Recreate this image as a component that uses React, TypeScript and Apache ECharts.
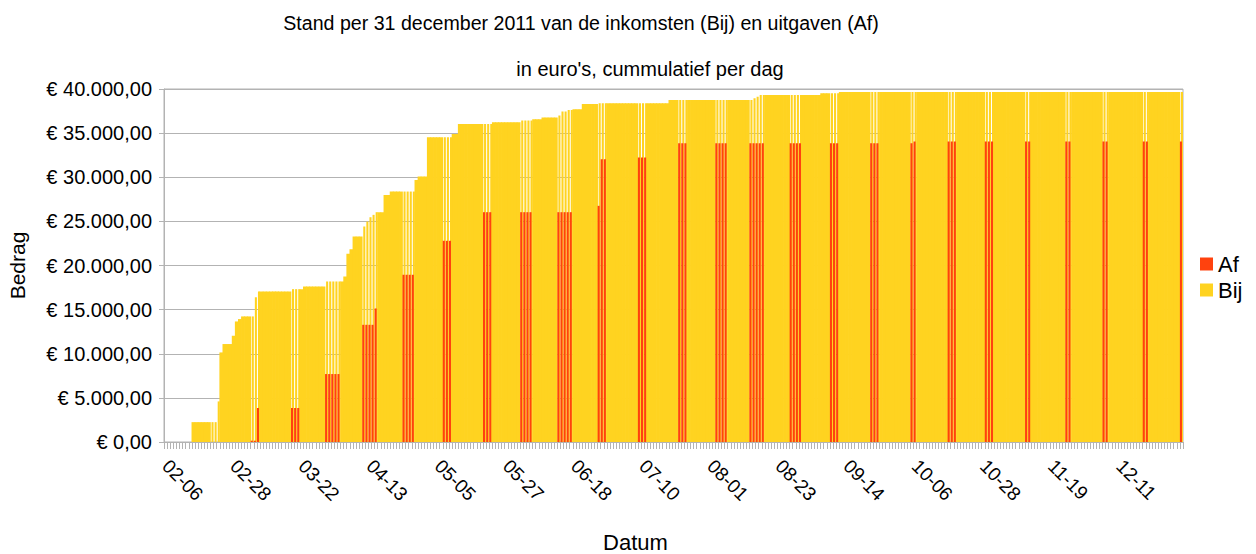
import React, { useEffect, useRef } from "react";
import * as echarts from "echarts";

// ---- Data ----
const TITLE = "Stand per 31 december 2011 van de inkomsten (Bij) en uitgaven (Af)";
const SUBTITLE = "in euro's, cummulatief per dag";
const SERIES_NAMES = ["Af", "Bij"];

// Daily categories: 2011-02-06 .. 2011-12-31
const FIRST_DAY = { year: 2011, month: 1, day: 6 };
const DAY_COUNT = 329;

// Runs of consecutive days with equal values (count of days per run)
const runLengths = [
  9, 6, 2, 1, 1, 3, 1, 1, 1, 3, 1, 1, 1, 10, 3, 1, 7, 5, 1, 1, 1, 1, 3, 1, 1, 1, 1, 1, 2, 2,
  4, 4, 1, 3, 5, 3, 2, 8, 3, 9, 4, 3, 5, 1, 2, 2, 3, 5, 1, 2, 10, 3, 7, 3, 3, 9, 4, 7, 1, 1,
  1, 2, 8, 4, 6, 3, 3, 10, 3, 10, 1, 1, 10, 3, 9, 3, 10, 2, 11, 2, 10, 2, 11, 2, 10, 1,
];
// Cumulative income (Bij) for each run
const bijRunValues = [
  null, 2250, 2250, 4600, 10150, 11100, 12040, 13660, 13930, 14230, 14230, 16400, 17060, 17060,
  17320, 17320, 17620, 18190, 18190, 18750, 21320, 21850, 23290, 24420, 24980, 25470, 25740,
  26040, 26040, 28000, 28380, 28380, 29700, 30080, 34530, 34530, 34900, 36040, 36040, 36230,
  36420, 36570, 36760, 37000, 37440, 37630, 37700, 38300, 38380, 38380, 38380, 38380, 38380,
  38760, 38760, 38760, 38760, 38760, 38760, 38950, 39130, 39320, 39320, 39320, 39320, 39510,
  39510, 39660, 39660, 39660, 39660, 39660, 39660, 39660, 39660, 39660, 39660, 39660, 39660,
  39660, 39660, 39660, 39660, 39660, 39660, 39660,
];
// Cumulative expenses (Af) for each run (null = no Af bar that day)
const afRunValues = [
  null, null, 0, 0, null, null, null, null, null, null, 150, 150, 3850, null,
  3850, null, null, 7700, null, null, null, null, null, 13280, 13280, 13280, 13280,
  15130, null, null, null, 18950, null, null, null, 22800, null, null, 26040, null,
  26040, null, null, 26040, 26040, 26040, null, null, 26760, 32040, null, 32230, null,
  null, 33850, null, 33850, null, 33850, 33850, 33850, 33850, null, 33850, null, null,
  33850, null, 33850, null, 33850, 34040, null, 34040, null, 34040, null, 34040,
  null, 34040, null, 34040, null, 34040, null, 34040,
];

const Y_MIN = 0;
const Y_MAX = 40000;
const Y_STEP = 5000;

const RED = "#ff420e";
const YELLOW = "#ffd320";
const GRID_GRAY = "#b3b3b3";
const FONT = "'Liberation Sans', Arial, sans-serif";

function buildCategories(): string[] {
  const out: string[] = [];
  for (let i = 0; i < DAY_COUNT; i++) {
    const d = new Date(Date.UTC(FIRST_DAY.year, FIRST_DAY.month, FIRST_DAY.day + i));
    const mm = String(d.getUTCMonth() + 1).padStart(2, "0");
    const dd = String(d.getUTCDate()).padStart(2, "0");
    out.push(`${mm}-${dd}`);
  }
  return out;
}

function expand(values: (number | null)[]): (number | null)[] {
  const out: (number | null)[] = [];
  runLengths.forEach((n, k) => {
    for (let j = 0; j < n; j++) out.push(values[k]);
  });
  return out;
}

function euro(v: number): string {
  const s = String(Math.round(v));
  const withDots = s.replace(/\B(?=(\d{3})+(?!\d))/g, ".");
  return "€ " + withDots + ",00";
}

export default function App() {
  const ref = useRef<HTMLDivElement>(null);

  useEffect(() => {
    if (!ref.current) return;
    const chart = echarts.init(ref.current, undefined, { renderer: "svg" });

    const categories = buildCategories();
    const bijDaily = expand(bijRunValues);
    const afDaily = expand(afRunValues);

    const bijFull = bijDaily.map((v, i) => (afDaily[i] === null && v !== null ? v : null));
    const afSplit = afDaily.map((v) => (v === null ? null : v));
    const bijSplit = bijDaily.map((v, i) => (afDaily[i] !== null ? v : null));

    const option: any = {
      animation: false,
      textStyle: { fontFamily: FONT },
      title: [
        {
          text: TITLE,
          left: 576,
          top: 8,
          textAlign: "center",
          textStyle: { fontSize: 19.6, fontWeight: "normal", color: "#000", fontFamily: FONT },
        },
        {
          text: SUBTITLE,
          left: 645,
          top: 54,
          textAlign: "center",
          textStyle: { fontSize: 20, fontWeight: "normal", color: "#000", fontFamily: FONT },
        },
      ],
      legend: {
        data: SERIES_NAMES,
        orient: "vertical",
        left: 1195,
        top: 248,
        itemWidth: 13,
        itemHeight: 13,
        itemGap: 4,
        icon: "rect",
        textStyle: { fontSize: 22, color: "#000", fontFamily: FONT },
      },
      grid: {
        left: 164,
        right: 73,
        top: 89,
        bottom: 112,
        outerBoundsMode: "none",
        containLabel: false,
        show: true,
        borderColor: GRID_GRAY,
        borderWidth: 1,
      },
      xAxis: [
        {
          type: "category",
          data: categories,
          boundaryGap: true,
          axisLine: { show: true, lineStyle: { color: GRID_GRAY } },
          axisTick: { show: true, interval: 0, length: 7, lineStyle: { color: GRID_GRAY } },
          axisLabel: {
            interval: 21,
            rotate: -45,
            fontSize: 19,
            color: "#000",
            margin: 21,
            fontFamily: FONT,
          },
          name: "Datum",
          nameLocation: "middle",
          nameGap: 89,
          nameTextStyle: { fontSize: 22, color: "#000", fontFamily: FONT, padding: [0, 76, 0, 0] },
        },
        {
          type: "category",
          data: categories,
          boundaryGap: true,
          show: false,
        },
      ],
      yAxis: {
        type: "value",
        min: Y_MIN,
        max: Y_MAX,
        interval: Y_STEP,
        axisLine: { show: true, lineStyle: { color: GRID_GRAY } },
        axisTick: { show: true, length: 5, lineStyle: { color: GRID_GRAY } },
        splitLine: { show: true, lineStyle: { color: GRID_GRAY } },
        axisLabel: {
          formatter: (v: number) => euro(v),
          fontSize: 20,
          color: "#000",
          margin: 12,
          fontFamily: FONT,
        },
        name: "Bedrag",
        nameLocation: "middle",
        nameGap: 136,
        nameTextStyle: { fontSize: 21, color: "#000", fontFamily: FONT },
      },
      series: [
        {
          name: "Bij",
          type: "bar",
          xAxisIndex: 0,
          data: bijFull,
          barWidth: 3.8,
          itemStyle: { color: YELLOW },
        },
        {
          name: "Af",
          type: "bar",
          xAxisIndex: 1,
          data: afSplit,
          z: 3,
          barGap: "-50%",
          itemStyle: { color: RED },
        },
        {
          name: "Bij",
          type: "bar",
          xAxisIndex: 1,
          data: bijSplit,
          barGap: "-50%",
          barCategoryGap: "0%",
          itemStyle: { color: YELLOW },
        },
      ],
    };

    chart.setOption(option);
    return () => chart.dispose();
  }, []);

  return (
    <div
      ref={ref}
      style={{ position: "fixed", left: 0, top: 0, width: 1256, height: 554, background: "#fff" }}
    />
  );
}
